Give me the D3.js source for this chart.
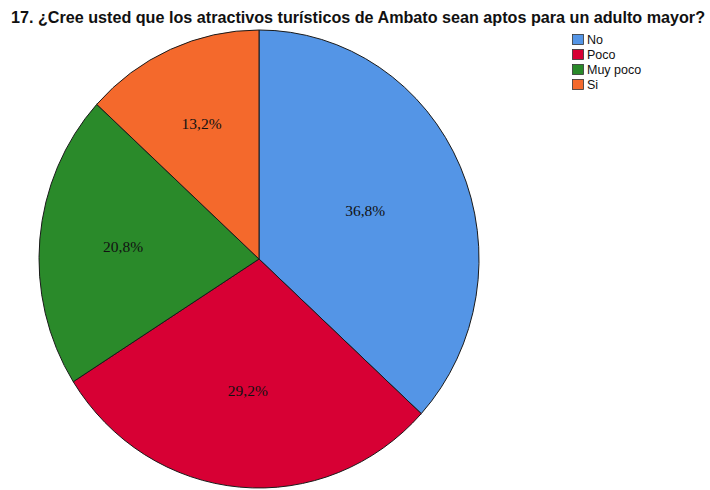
<!DOCTYPE html>
<html><head><meta charset="utf-8">
<script src="https://cdn.jsdelivr.net/npm/d3@7"></script>
<style>body{margin:0;background:#fff}</style>
</head><body>
<script>
const categories = ["No", "Poco", "Muy poco", "Si"];
const values = [36.8, 29.2, 20.8, 13.2];
const labels = ["36,8%", "29,2%", "20,8%", "13,2%"];
const colors = ["#5495E6", "#D70034", "#2A8A2A", "#F4692C"];
const title = "17. ¿Cree usted que los atractivos turísticos de Ambato sean aptos para un adulto mayor?";

const W = 710, H = 490;
const svg = d3.select("body").append("svg").attr("width", W).attr("height", H);

svg.append("text").attr("x", 358).attr("y", 23).attr("text-anchor", "middle")
  .attr("font-family", "Liberation Sans, Arial, sans-serif").attr("font-weight", "bold")
  .attr("font-size", 16).attr("textLength", 694).attr("lengthAdjust", "spacingAndGlyphs")
  .attr("fill", "#111").text(title);

const cx = 259, cy = 259, rx = 220, ry = 229;
const pie = d3.pie().sort(null).value(d => d.v);
const arcs = pie(categories.map((c, i) => ({c, v: values[i], i})));
const arc = d3.arc().innerRadius(0).outerRadius(rx);

const g = svg.append("g").attr("transform", `translate(${cx},${cy}) scale(1,${ry / rx})`);
g.selectAll("path").data(arcs).join("path")
  .attr("d", arc).attr("fill", d => colors[d.data.i])
  .attr("stroke", "#1a1a1a").attr("stroke-width", 1).attr("vector-effect", "non-scaling-stroke");

// label at the area centroid of each sector
function labelPos(d) {
  const th = d.endAngle - d.startAngle;
  const rr = 4 * Math.sin(th / 2) / (3 * th);
  const m = (d.startAngle + d.endAngle) / 2;
  return [rr * rx * Math.sin(m), -rr * ry * Math.cos(m)];
}
const lg = svg.append("g").attr("transform", `translate(${cx},${cy})`);
lg.selectAll("text").data(arcs).join("text")
  .attr("x", d => labelPos(d)[0])
  .attr("y", d => labelPos(d)[1])
  .attr("text-anchor", "middle").attr("dominant-baseline", "central")
  .attr("font-family", "Liberation Serif, Times New Roman, serif").attr("font-size", 15.5)
  .attr("fill", "#111").text(d => labels[d.data.i]);

const leg = svg.append("g").attr("transform", "translate(572,34)");
categories.forEach((c, i) => {
  const row = leg.append("g").attr("transform", `translate(0,${i * 15})`);
  row.append("rect").attr("x", 0.5).attr("y", 0.5).attr("width", 11).attr("height", 10)
    .attr("fill", colors[i]).attr("stroke", "#333").attr("stroke-width", 0.8);
  row.append("text").attr("x", 15).attr("y", 5.5).attr("dominant-baseline", "central")
    .attr("font-family", "Liberation Sans, Arial, sans-serif").attr("font-size", 12.5)
    .attr("fill", "#111").text(c);
});
</script>
</body></html>
